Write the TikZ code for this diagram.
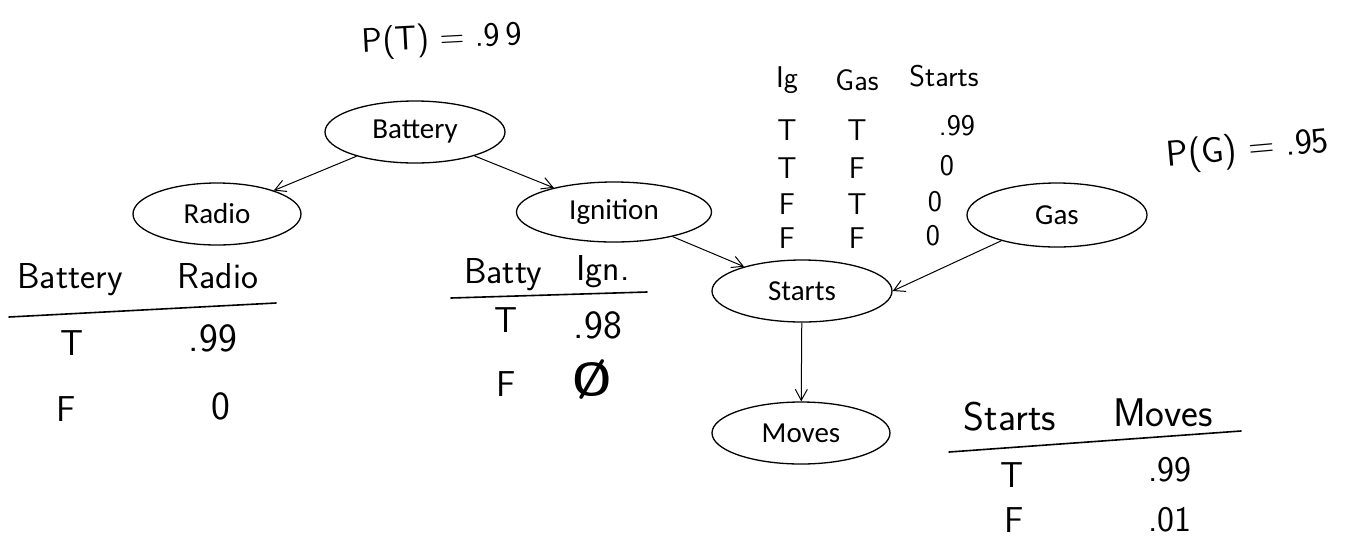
\documentclass[tikz,border=0pt]{standalone}
\usepackage{fontspec}
\setmainfont{Carlito}
\usetikzlibrary{shapes.geometric,arrows.meta}
\begin{document}
\begin{tikzpicture}[x=1pt,y=-1pt,
  bn/.style={ellipse,draw,line width=1.3pt,inner sep=0pt,minimum width=180pt,minimum height=62pt,font=\fontsize{29}{32}\selectfont},
  edge/.style={line width=1pt,-{Straight Barb[length=11pt,width=12pt,line width=1pt]}},
  hand/.style={font=\sffamily\fontsize{36}{38}\selectfont,inner sep=0pt},
  handsm/.style={font=\sffamily\fontsize{30}{32}\selectfont,inner sep=0pt},
  handlg/.style={font=\sffamily\fontsize{40}{42}\selectfont,inner sep=0pt},
  uline/.style={line width=1.6pt,line cap=round}]
\useasboundingbox (0,0) rectangle (1362,550);
% network nodes
\node[bn] (bat) at (415,132) {Battery};
\node[bn,minimum width=168pt] (rad) at (217,214) {Radio};
\node[bn,minimum width=195pt,minimum height=60pt] (ign) at (614,212) {Ignition};
\node[bn,minimum height=64pt] (gas) at (1057,215) {Gas};
\node[bn] (sta) at (802,291) {Starts};
\node[bn,minimum width=178pt] (mov) at (801,433) {Moves};
% connectors
\draw[edge] (bat) -- (rad);
\draw[edge] (bat) -- (ign);
\draw[edge] (ign) -- (sta);
\draw[edge] (gas) -- (sta.east);
\draw[edge] (sta) -- (mov);
% prior probabilities
\node[hand,font=\sffamily\fontsize{34}{36}\selectfont,rotate=3] (pt) at (442,40) {P(T) = .9\,9};
\node[hand,rotate=5] (pg) at (1248,150) {P(G) = .95};
% Battery / Radio table
\node[hand] (h1a) at (70,280) {Battery};
\node[hand] (h1b) at (218,276) {Radio};
\coordinate (u1a) at (9,317);
\coordinate (u1b) at (276,303);
\draw[uline] (u1a) -- (u1b);
\node[hand] (r1a) at (72,343) {T};
\node[handlg] (r1b) at (213,338) {.99};
\node[hand] (r2a) at (66,409) {F};
\node[handlg] (r2b) at (221,406) {0};
% Battery / Ignition table
\node[hand] (h2a) at (503,275) {Batty};
\node[hand] (h2b) at (603,272) {Ign.};
\coordinate (u2a) at (451,298);
\coordinate (u2b) at (647,292);
\draw[uline] (u2a) -- (u2b);
\node[hand] (s1a) at (506,320) {T};
\node[handlg] (s1b) at (598,325) {.98};
\node[hand] (s2a) at (506,384) {F};
\node[hand,font=\sffamily\bfseries\fontsize{46}{48}\selectfont] (s2b) at (592,380) {Ø};
% Ignition / Gas / Starts table
\node[handsm] (g0a) at (787,80) {Ig};
\node[handsm] (g0b) at (857,80) {Gas};
\node[handsm] (g0c) at (944,76) {Starts};
\node[handsm] (g1a) at (787,130) {T};
\node[handsm] (g1b) at (857,130) {T};
\node[handsm] (g1c) at (957,126) {.99};
\node[handsm] (g2a) at (787,168) {T};
\node[handsm] (g2b) at (857,168) {F};
\node[handsm] (g2c) at (947,166) {0};
\node[handsm] (g3a) at (787,204) {F};
\node[handsm] (g3b) at (857,204) {T};
\node[handsm] (g3c) at (935,202) {0};
\node[handsm] (g4a) at (787,238) {F};
\node[handsm] (g4b) at (857,238) {F};
\node[handsm] (g4c) at (933,236) {0};
% Starts / Moves table
\node[handlg] (m0a) at (1010,417) {Starts};
\node[handlg] (m0b) at (1163,413) {Moves};
\coordinate (u3a) at (949,452);
\coordinate (u3b) at (1241,431);
\draw[uline] (u3a) -- (u3b);
\node[hand] (m1a) at (1012,475) {T};
\node[hand] (m1b) at (1170,470) {.99};
\node[hand] (m2a) at (1014,520) {F};
\node[hand] (m2b) at (1170,520) {.01};
\end{tikzpicture}
\end{document}
